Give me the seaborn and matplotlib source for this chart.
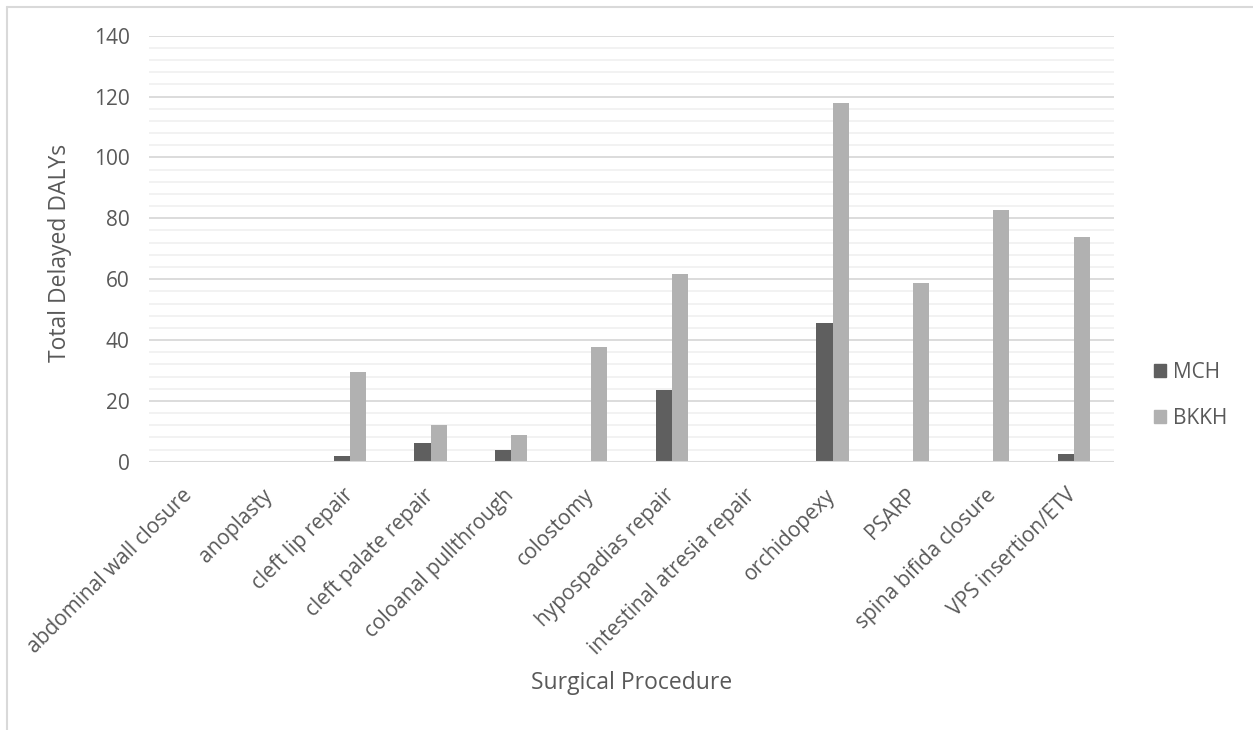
import matplotlib
matplotlib.use("Agg")
import matplotlib.pyplot as plt
from matplotlib.lines import Line2D
from matplotlib.ticker import MultipleLocator
import seaborn as sns
import pandas as pd

procedures = ["abdominal wall closure", "anoplasty", "cleft lip repair",
              "cleft palate repair", "coloanal pullthrough", "colostomy",
              "hypospadias repair", "intestinal atresia repair", "orchidopexy",
              "PSARP", "spina bifida closure", "VPS insertion/ETV"]
mch = [0, 0, 2, 6.2, 3.7, 0, 23.5, 0, 45.7, 0, 0, 2.5]
bkkh = [0, 0, 29.6, 12.1, 8.8, 37.7, 61.7, 0, 118, 58.6, 82.8, 73.7]
hospitals = ["MCH", "BKKH"]
colors = ["#5f5f5f", "#b1b1b1"]

df = pd.DataFrame({
    "procedure": procedures * 2,
    "dalys": mch + bkkh,
    "hospital": ["MCH"] * len(mch) + ["BKKH"] * len(bkkh),
})

sns.set_theme(style="white")
plt.rcParams["font.family"] = ["Open Sans", "DejaVu Sans"]
txt = "#595959"

fig = plt.figure(figsize=(12.53, 7.30), dpi=100)
ax = fig.add_axes([0.119, 0.3675, 0.77, 0.5835])

sns.barplot(data=df, x="procedure", y="dalys", hue="hospital",
            hue_order=hospitals, palette=colors, width=0.4,
            linewidth=0, ax=ax, legend=False)

ax.set_ylim(0, 140)
ax.set_xlim(-0.5, len(procedures) - 0.5)
ax.yaxis.set_major_locator(MultipleLocator(20))
ax.yaxis.set_minor_locator(MultipleLocator(4))
ax.grid(axis="y", which="minor", color="#f0f0f0", linewidth=1.2, zorder=0)
ax.grid(axis="y", which="major", color="#d9d9d9", linewidth=1.3, zorder=0)
ax.set_axisbelow(True)
for s in ax.spines.values():
    s.set_visible(False)
ax.axhline(0, color="#d9d9d9", linewidth=1.5, zorder=1)

ax.tick_params(axis="both", which="both", length=0, colors=txt, labelsize=15)
ax.tick_params(axis="y", pad=14)
ax.tick_params(axis="x", pad=22)
plt.setp(ax.get_xticklabels(), rotation=45, ha="right", va="center",
         rotation_mode="anchor")

ax.set_xlabel("Surgical Procedure", fontsize=16.5, color=txt)
ax.set_ylabel("Total Delayed DALYs", fontsize=16.5, color=txt)
ax.xaxis.set_label_coords(0.5, -0.519)
ax.yaxis.set_label_coords(-0.092, 0.49)
ax.xaxis.label.set_va("center")
ax.yaxis.label.set_va("center")

handles = [plt.Rectangle((0, 0), 1, 1, color=c) for c in colors]
fig.legend(handles, hospitals, loc="center left", bbox_to_anchor=(0.906, 0.458),
           frameon=False, fontsize=15, labelcolor=txt, handlelength=0.6,
           handleheight=0.6, handletextpad=0.3, labelspacing=1.2)

# outer chart border
fig.add_artist(Line2D([7 / 1253, 7 / 1253], [0, 1 - 7 / 730], color="#d9d9d9", linewidth=1.5))
fig.add_artist(Line2D([7 / 1253, 1], [1 - 7 / 730, 1 - 7 / 730], color="#d9d9d9", linewidth=1.5))

fig.savefig("out.png", dpi=100)
